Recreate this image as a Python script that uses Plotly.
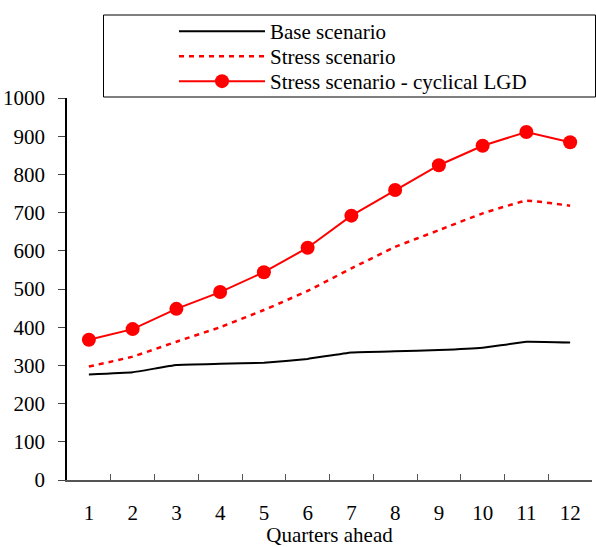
import plotly.graph_objects as go

quarters = [str(i) for i in range(1, 13)]
base = [276, 282, 301, 304, 307, 317, 334, 337, 340, 346, 362, 360]
stress = [297, 323, 362, 400, 445, 495, 554, 610, 654, 698, 731, 718]
stress_lgd = [367, 395, 448, 492, 544, 608, 692, 759, 824, 875, 911, 884]

W, H = 596, 547
L, R, T, B = 67, 4, 98, 67
pw, ph = W - L - R, H - T - B

def px_x(p):
    return (p - L) / pw

def px_y(p):
    return (H - B - p) / ph

FONT = "Liberation Serif, Times New Roman, serif"
FS = 21

fig = go.Figure()
fig.add_trace(go.Scatter(x=quarters, y=base, mode="lines", name="Base scenario", legend="legend",
                         showlegend=True,
                         line=dict(color="black", width=2, shape="spline", smoothing=0.3)))
fig.add_trace(go.Scatter(x=quarters, y=stress, mode="lines", name="Stress scenario", legend="legend2",
                         showlegend=True,
                         line=dict(color="#ff0000", width=2.5, dash="5px,5px", shape="spline", smoothing=0.3)))
fig.add_trace(go.Scatter(x=quarters, y=stress_lgd, mode="lines+markers", name="Stress scenario - cyclical LGD",
                         legend="legend3", showlegend=True,
                         line=dict(color="#ff0000", width=2),
                         marker=dict(color="#ff0000", size=14)))

def leg(row_y):
    return dict(x=px_x(174), y=px_y(row_y), xanchor="left", yanchor="middle",
                bgcolor="rgba(0,0,0,0)", borderwidth=0, itemwidth=86,
                font=dict(family=FONT, size=FS))

fig.update_layout(
    width=W, height=H,
    showlegend=True,
    margin=dict(l=L, r=R, t=T, b=B, autoexpand=False),
    plot_bgcolor="white", paper_bgcolor="white",
    font=dict(family=FONT, size=FS, color="black"),
    legend=leg(31.5), legend2=leg(56.5), legend3=leg(81.5),
    shapes=[dict(type="rect", xref="paper", yref="paper",
                 x0=px_x(103.5), x1=px_x(595.5), y0=px_y(97), y1=px_y(15),
                 line=dict(color="black", width=1), fillcolor="rgba(0,0,0,0)")],
    xaxis=dict(range=[-0.5, 11.5], showline=True, linecolor="#555", linewidth=1.5, ticks="inside", ticklen=6,
               tickcolor="#555", tickson="boundaries", showgrid=False, zeroline=False,
               ticklabelstandoff=13, automargin=False,
               title=dict(text="Quarters ahead", standoff=0, font=dict(family=FONT, size=FS))),
    yaxis=dict(range=[0, 1000], dtick=100, showline=True, linecolor="black", linewidth=1.5,
               ticks="outside", ticklen=7, showgrid=False, zeroline=False,
               ticklabelstandoff=9, automargin=False),
)
fig.write_html("out.html", config={"displayModeBar": False},
               post_script="document.body.style.margin='0';")
